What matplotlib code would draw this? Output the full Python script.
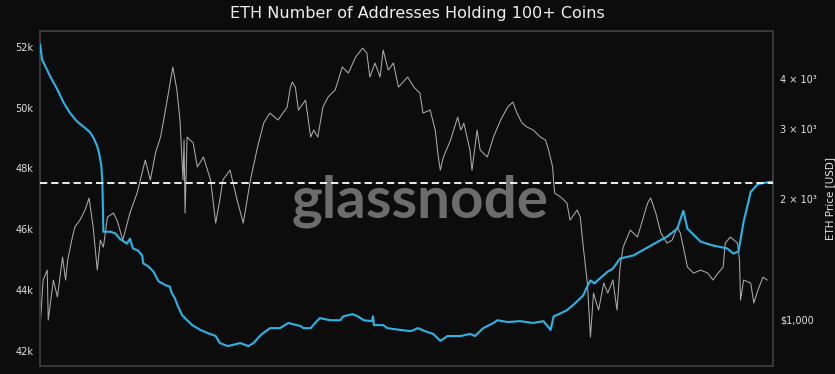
import matplotlib
matplotlib.use("Agg")
import matplotlib.pyplot as plt
from matplotlib.ticker import FixedLocator, FixedFormatter, NullLocator
import numpy as np
import pandas as pd

# Dados (dias a partir de 2021-01-01)
inicio = pd.Timestamp("2021-01-01")

dias_enderecos = [0, 2, 10, 17, 23, 29, 36, 42, 49, 52, 56, 58, 60, 61, 62, 69, 74, 78, 85, 88,
                  91, 96, 100, 101, 106, 111, 116, 123, 127, 129, 132, 135, 139, 144, 149, 157,
                  164, 172, 176, 184, 189, 196, 204, 209, 216, 225, 235, 243, 255, 258, 265,
                  271, 274, 284, 294, 297, 306, 311, 317, 325, 326, 327, 336, 340, 353, 363,
                  370, 377, 385, 392, 399, 412, 421, 426, 434, 444, 448, 458, 470, 483, 493,
                  500, 503, 510, 516, 524, 532, 535, 539, 543, 546, 556, 561, 568, 581, 598,
                  614, 624, 630, 634, 647, 660, 673, 679, 684, 689, 696, 703, 715, 718]
enderecos = [52070, 51580, 51020, 50590, 50170, 49840, 49550, 49390, 49190, 49030, 48730,
             48470, 48080, 47560, 45920, 45920, 45860, 45690, 45530, 45690, 45370, 45300,
             45140, 44880, 44780, 44610, 44290, 44160, 44120, 43900, 43730, 43470, 43180,
             43010, 42850, 42690, 42590, 42490, 42260, 42160, 42200, 42260, 42160, 42260,
             42520, 42750, 42750, 42920, 42820, 42750, 42750, 42980, 43080, 43010, 43010,
             43140, 43210, 43140, 43010, 42980, 43140, 42850, 42850, 42750, 42690, 42650,
             42750, 42650, 42560, 42330, 42490, 42490, 42560, 42490, 42750, 42920, 43010,
             42950, 42980, 42920, 42980, 42690, 43140, 43240, 43340, 43570, 43830, 44060,
             44320, 44220, 44320, 44610, 44710, 45040, 45140, 45460, 45760, 46020, 46610,
             46020, 45590, 45460, 45370, 45200, 45270, 46250, 47230, 47490, 47560, 47560]

dias_preco = [0, 3, 7, 8, 13, 17, 22, 25, 27, 31, 34, 39, 44, 48, 52, 56, 59, 62, 66, 72,
              76, 81, 88, 95, 103, 108, 113, 118, 124, 130, 134, 137, 140, 141, 142, 144,
              150, 154, 160, 167, 172, 176, 179, 186, 193, 199, 206, 213, 219, 225, 233,
              242, 245, 247, 250, 253, 260, 265, 268, 272, 277, 282, 289, 296, 302, 309,
              316, 320, 323, 328, 333, 336, 341, 346, 351, 360, 366, 372, 375, 382, 387,
              390, 392, 395, 402, 409, 412, 415, 421, 423, 428, 431, 438, 444, 451, 458,
              463, 467, 472, 477, 483, 490, 495, 498, 502, 503, 504, 510, 516, 519, 526,
              529, 532, 536, 539, 542, 547, 552, 556, 561, 565, 568, 571, 578, 585, 588,
              595, 598, 603, 608, 614, 619, 624, 627, 630, 634, 640, 647, 654, 659, 664,
              669, 671, 676, 683, 685, 686, 689, 696, 699, 703, 708, 712]
preco = [955, 1253, 1327, 994, 1253, 1136, 1431, 1253, 1406, 1578, 1701, 1771, 1877, 2012,
         1701, 1327, 1578, 1515, 1803, 1845, 1751, 1578, 1845, 2070, 2505, 2232, 2608, 2861,
         3482, 4286, 3753, 3156, 2232, 2812, 1845, 2861, 2764, 2406, 2549, 2232, 1741, 1988,
         2232, 2364, 1988, 1741, 2232, 2701, 3102, 3286, 3156, 3402, 3797, 3930, 3818, 3343,
         3542, 2861, 2979, 2861, 3402, 3604, 3753, 4286, 4140, 4541, 4783, 4647, 4046, 4387,
         4046, 4728, 4212, 4387, 3818, 4046, 3818, 3688, 3286, 3343, 2979, 2549, 2364, 2549,
         2812, 3211, 2979, 3102, 2654, 2364, 2979, 2654, 2549, 2861, 3156, 3402, 3502, 3286,
         3102, 3030, 2979, 2861, 2812, 2654, 2406, 2194, 2070, 2023, 1954, 1771, 1877, 1803,
         1515, 1231, 901, 1162, 1053, 1231, 1162, 1253, 1053, 1350, 1515, 1672, 1606, 1701,
         1954, 2012, 1845, 1643, 1551, 1578, 1701, 1643, 1515, 1350, 1304, 1327, 1304, 1253,
         1304, 1350, 1551, 1606, 1551, 1406, 1116, 1253, 1231, 1097, 1182, 1274, 1253]

nivel_atual = 47520

ticks_esq = [42000, 44000, 46000, 48000, 50000, 52000]
labels_esq = ["42k", "44k", "46k", "48k", "50k", "52k"]
ticks_dir = [1000, 2000, 3000, 4000]
labels_dir = ["$1,000", "2 × 10³", "3 × 10³", "4 × 10³"]

datas_end = inicio + pd.to_timedelta(dias_enderecos, unit="D")
datas_preco = inicio + pd.to_timedelta(dias_preco, unit="D")

fundo = "#0c0c0c"
fig = plt.figure(figsize=(8.35, 3.74), dpi=100, facecolor=fundo)
ax = fig.add_axes([0.048, 0.021, 0.878, 0.896])
ax2 = ax.twinx()
ax.set_zorder(ax2.get_zorder() + 1)
ax.patch.set_visible(False)
ax2.set_facecolor(fundo)

# preço (eixo direito, log)
ax2.plot(datas_preco, preco, color="#aaaaaa", lw=0.75, zorder=2)
ax2.set_yscale("log")
ax2.set_ylim(762, 5277)
ax2.yaxis.set_major_locator(FixedLocator(ticks_dir))
ax2.yaxis.set_major_formatter(FixedFormatter(labels_dir))
ax2.yaxis.set_minor_locator(NullLocator())
ax2.text(0.518, 0.445, "glassnode", transform=ax2.transAxes, ha="center", va="baseline",
         fontsize=42, fontweight="bold", color="#6c6c6c", family="Lato", zorder=0)
ax2.set_ylabel("ETH Price [USD]", color="#e0e0e0", fontsize=7.5, labelpad=6)

# endereços (eixo esquerdo)
ax.plot(datas_end, enderecos, color="#2bb5e6", lw=1.5, zorder=3)
ax.axhline(nivel_atual, color="white", ls="--", lw=1.3, dashes=(4, 2.2), zorder=4)
ax.set_ylim(41500, 52520)
ax.set_xlim(inicio, inicio + pd.Timedelta(days=718))
ax.yaxis.set_major_locator(FixedLocator(ticks_esq))
ax.yaxis.set_major_formatter(FixedFormatter(labels_esq))

for a in (ax, ax2):
    a.tick_params(colors="#e0e0e0", labelsize=7, length=0, pad=5)
    a.set_xticks([])
    for s in a.spines.values():
        s.set_color("#3a3a3a")
        s.set_linewidth(1.2)

fig.suptitle("ETH Number of Addresses Holding 100+ Coins", color="#f0f0f0",
             fontsize=11.5, y=0.985)

fig.savefig("out.png", dpi=100, facecolor=fundo)
